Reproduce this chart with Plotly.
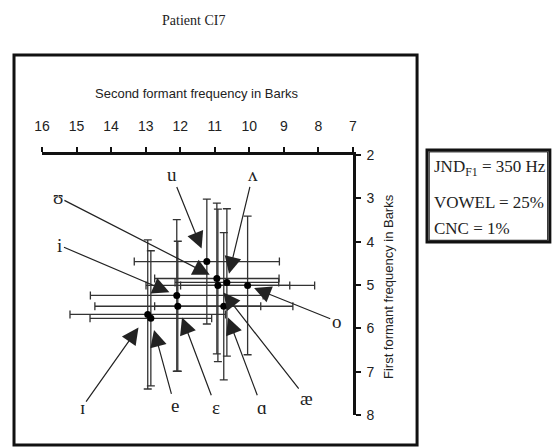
import plotly.graph_objects as go

# ---- data ----
vowels = ['u', 'ʊ', 'ʌ', 'æ', 'o', 'i', 'ɛ', 'ɑ', 'ɪ', 'e']
f2_barks = [11.23, 10.94, 10.65, 10.91, 10.05, 12.10, 12.07, 10.74, 12.94, 12.85]
f1_barks = [4.46, 4.85, 4.94, 5.01, 5.01, 5.24, 5.49, 5.49, 5.68, 5.77]
f2_sd = [2.1, 1.8, 1.5, 2.08, 1.94, 2.5, 2.4, 2.0, 2.25, 1.76]
f1_sd = [1.44, 1.74, 1.7, 1.76, 1.6, 1.75, 1.5, 1.7, 1.72, 1.56]

x_ticks = [16, 15, 14, 13, 12, 11, 10, 9, 8, 7]
y_ticks = [2, 3, 4, 5, 6, 7, 8]

# label placement (layout, in axis units)
label_pos = {
    'u': (12.24, 2.46), 'ʊ': (15.54, 2.97), 'ʌ': (9.9, 2.46), 'æ': (8.34, 7.63),
    'o': (7.47, 5.84), 'i': (15.48, 4.09), 'ɛ': (10.97, 7.82), 'ɑ': (9.64, 7.82),
    'ɪ': (14.84, 7.82), 'e': (12.16, 7.79),
}
standoff = {'u': 14, 'ʊ': 8, 'ʌ': 9, 'æ': 9, 'o': 7, 'i': 8, 'ɛ': 12,
            'ɑ': 12, 'ɪ': 16, 'e': 12}

fig = go.Figure()
fig.add_trace(go.Scatter(
    x=f2_barks, y=f1_barks, mode='markers', text=vowels,
    marker=dict(color='black', size=7),
    error_x=dict(type='data', array=f2_sd, color='#333333', thickness=1.3, width=4),
    error_y=dict(type='data', array=f1_sd, color='#333333', thickness=1.3, width=4),
    showlegend=False, cliponaxis=False,
))

serif = 'Liberation Serif, DejaVu Serif, serif'
sans = 'Liberation Sans, Arial, sans-serif'

for v, x, y in zip(vowels, f2_barks, f1_barks):
    lx, ly = label_pos[v]
    fig.add_annotation(
        x=x, y=y, xref='x', yref='y', ax=lx, ay=ly, axref='x', ayref='y',
        text=v, showarrow=True, arrowhead=2, arrowsize=2.8, arrowwidth=1.2,
        arrowcolor='#222222', standoff=standoff[v],
        font=dict(family=serif, size=19, color='#222222'),
    )

# titles and side box text
fig.add_annotation(x=0.486, y=1.519, xref='paper', yref='paper', showarrow=False,
                   xanchor='center', yanchor='middle',
                   text='Patient CI7', font=dict(family=serif, size=14, color='#222222'))
fig.add_annotation(x=0.498, y=1.238, xref='paper', yref='paper', showarrow=False,
                   xanchor='center', yanchor='middle',
                   text='Second formant frequency in Barks',
                   font=dict(family=sans, size=13, color='#222222'))
fig.add_annotation(x=1.1125, y=0.496, xref='paper', yref='paper', showarrow=False,
                   xanchor='center', yanchor='middle',
                   textangle=-90, text='First formant frequency in Barks',
                   font=dict(family=sans, size=13, color='#222222'))

box_lines = ['JND<sub>F1</sub> = 350 Hz', 'VOWEL = 25%', 'CNC = 1%']
box_y = [0.95, 0.819, 0.719]
for t, yy in zip(box_lines, box_y):
    fig.add_annotation(x=1.254, y=yy, xref='paper', yref='paper', showarrow=False,
                       xanchor='left', yanchor='middle', text=t,
                       font=dict(family=serif, size=17, color='#222222'))

# outer frame and side box
fig.add_shape(type='rect', xref='paper', yref='paper', x0=-0.09, x1=1.206, y0=-0.115, y1=1.385,
              line=dict(color='#111111', width=3))
fig.add_shape(type='rect', xref='paper', yref='paper', x0=1.238, x1=1.633, y0=0.665, y1=1.019,
              line=dict(color='#111111', width=3))
fig.add_shape(type='rect', xref='paper', yref='paper', x0=1.245, x1=1.626, y0=0.672, y1=1.012,
              line=dict(color='#111111', width=1))

fig.update_xaxes(
    side='top', range=[16, 7], tickvals=x_ticks, ticktext=[str(t) for t in x_ticks],
    showgrid=False, zeroline=False, showline=True, linecolor='#111111', linewidth=2.5,
    ticks='outside', ticklen=5, tickwidth=2, tickcolor='#111111', ticklabelstandoff=11,
    tickfont=dict(family=sans, size=14, color='#222222'),
)
fig.update_yaxes(
    side='right', range=[8, 2], tickvals=y_ticks, ticktext=[str(t) for t in y_ticks],
    showgrid=False, zeroline=False, showline=True, linecolor='#111111', linewidth=2.5,
    ticks='outside', ticklen=5, tickwidth=2, tickcolor='#111111', ticklabelstandoff=3,
    tickfont=dict(family=sans, size=14, color='#222222'),
)

fig.update_layout(
    width=552, height=448, paper_bgcolor='white', plot_bgcolor='white',
    margin=dict(l=42, r=199, t=155, b=33), showlegend=False,
)

fig.write_html('out.html', config={'displayModeBar': False},
               post_script="document.body.style.margin='0';document.body.style.overflow='hidden';")
